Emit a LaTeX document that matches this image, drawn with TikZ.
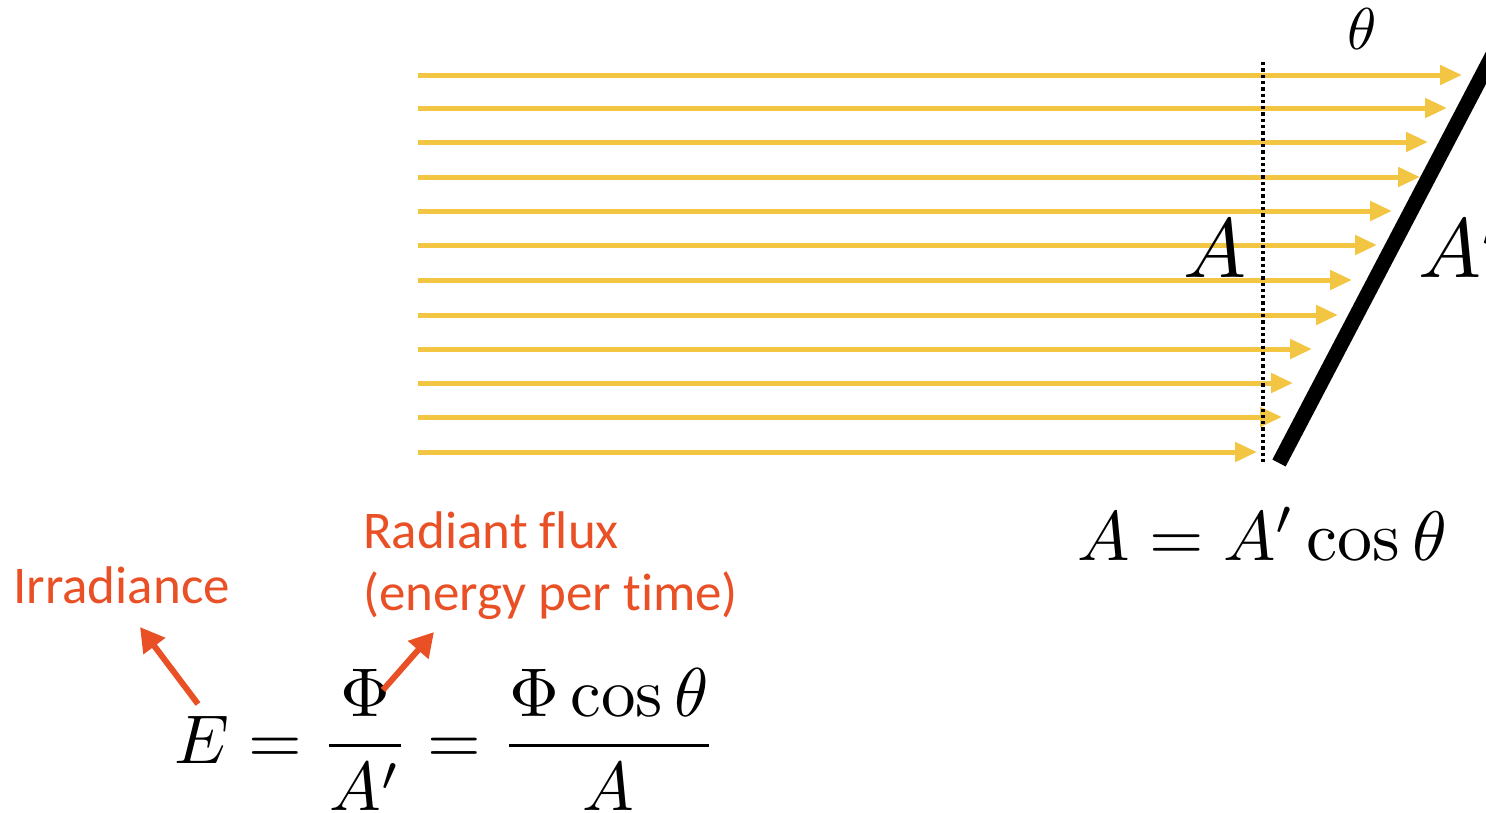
\documentclass[tikz,border=0pt]{standalone}
\usepackage{graphicx}
\usepackage{fontspec}
\newfontfamily\calibri[Ligatures=NoCommon]{Carlito}
\usetikzlibrary{arrows.meta}
\definecolor{ray}{RGB}{242,197,66}
\definecolor{note}{RGB}{233,80,38}
\begin{document}
\begin{tikzpicture}[x=1pt,y=-1pt,
  raystyle/.style={draw=ray, line width=5pt, -{Triangle[length=22pt,width=19pt]}},
  notearrow/.style={draw=note, line width=6pt, -{Triangle[length=24pt,width=26pt]}},
  notetext/.style={text=note, font=\calibri\fontsize{53}{62}\selectfont, inner sep=0pt},
  mathtext/.style={inner sep=0pt},
  dotline/.style={line width=3.5pt, dash pattern=on 3.3pt off 3pt},
  barline/.style={line width=15pt, line cap=butt}]
\useasboundingbox (0,0) rectangle (1486,812);
\clip (0,0) rectangle (1486,812);
% light rays
\foreach \yy/\tt [count=\i] in {75/1462,108/1447,142/1428,177/1420,211/1392,245/1377,280/1352,315/1338,349/1312,383/1293,417/1282,452/1257}{
  \coordinate (s\i) at (418,\yy);
  \coordinate (e\i) at (\tt,\yy);
  \draw[raystyle] (s\i) -- (e\i);
}
% dotted projection line
\coordinate (dt) at (1263,62);
\coordinate (db) at (1263,462);
\draw[dotline] (dt) -- (db);
% tilted surface
\coordinate (bb) at (1279,463);
\coordinate (bt) at (1500,41);
\draw[barline] (bb) -- (bt);
% labels
\node[mathtext, anchor=base west] (theta) at (1347,49) {\scalebox{5.9}{$\theta$}};
\node[mathtext, anchor=base west] (A) at (1183,277) {\scalebox{8.4}{$A$}};
\node[mathtext, anchor=base west] (Ap) at (1418,277) {\scalebox{8.4}{$A'$}};
\node[mathtext, anchor=base west] (rel) at (1077,560) {\scalebox{7.0}{$A = A'\cos\theta$}};
\node[mathtext, anchor=base west] (E) at (174,763) {\scalebox{6.9}{$E = \displaystyle\frac{\Phi}{A'} = \frac{\Phi\cos\theta}{A}$}};
% annotations
\node[notetext, anchor=base west] (irr) at (13,603) {Irradiance};
\node[notetext, anchor=base west, align=left] (flux) at (363,610) {Radiant flux\\(energy per time)};
\coordinate (irrtail) at (198,704);
\coordinate (irrtip) at (140,627);
\coordinate (fluxtail) at (383,690);
\coordinate (fluxtip) at (434,632);
\draw[notearrow] (irrtail) -- (irrtip);
\draw[notearrow] (fluxtail) -- (fluxtip);
\end{tikzpicture}
\end{document}
